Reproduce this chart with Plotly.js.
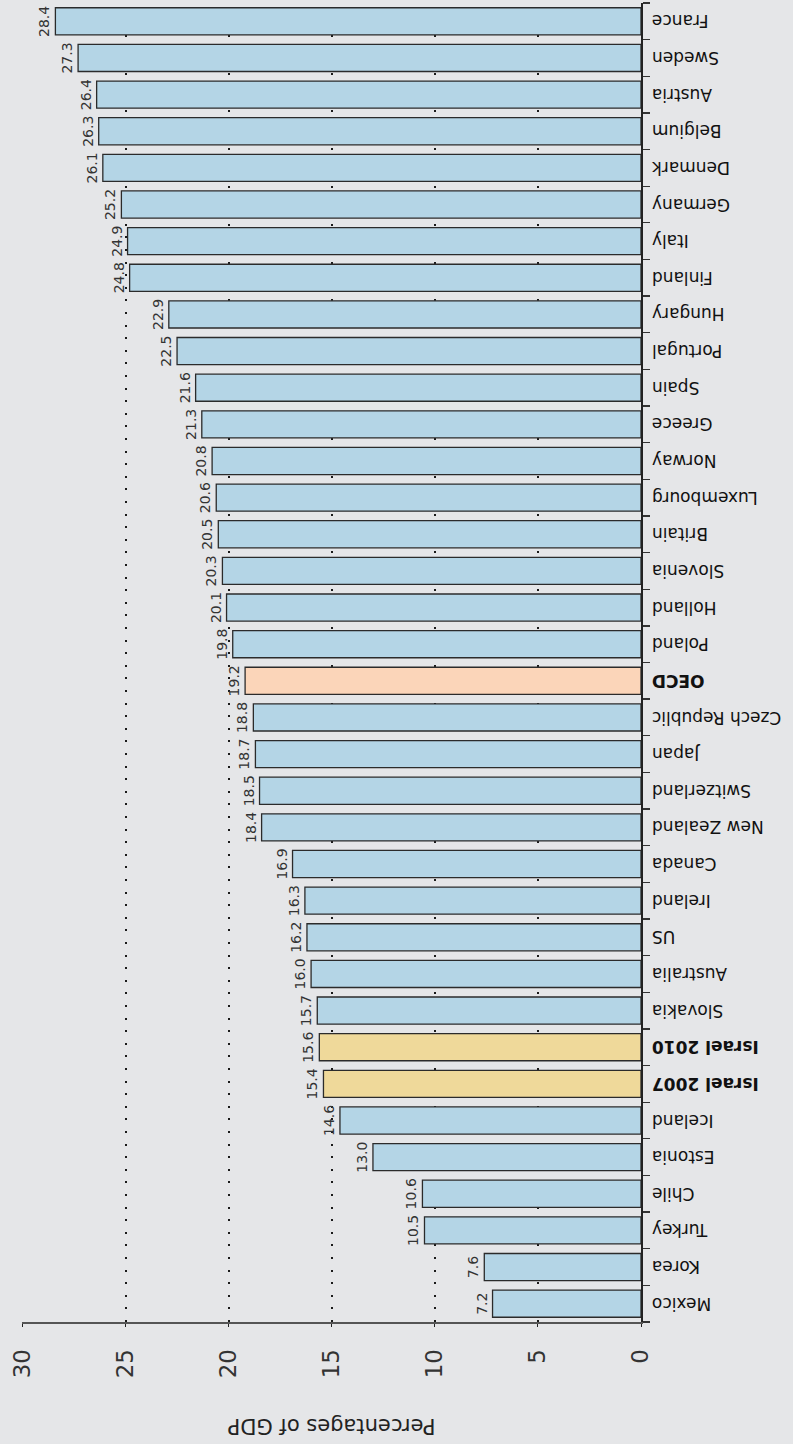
<!DOCTYPE html>
<html>
<head>
<meta charset="utf-8">
<script src="https://cdn.plot.ly/plotly-3.0.1.min.js"></script>
<style>
  html, body { margin: 0; padding: 0; background: #e5e6e8; overflow: hidden; }
  #chart { width: 793px; height: 1444px; transform: rotate(180deg); transform-origin: 50% 50%; }
</style>
</head>
<body>
<div id="chart"></div>
<script>
// Data, ordered as in the chart
const countries = ['France','Sweden','Austria','Belgium','Denmark','Germany','Italy','Finland',
  'Hungary','Portugal','Spain','Greece','Norway','Luxembourg','Britain','Slovenia','Holland',
  'Poland','OECD','Czech Republic','Japan','Switzerland','New Zealand','Canada','Ireland','US',
  'Australia','Slovakia','Israel 2010','Israel 2007','Iceland','Estonia','Chile','Turkey','Korea','Mexico'];
const values = [28.4,27.3,26.4,26.3,26.1,25.2,24.9,24.8,22.9,22.5,21.6,21.3,20.8,20.6,20.5,20.3,20.1,
  19.8,19.2,18.8,18.7,18.5,18.4,16.9,16.3,16.2,16.0,15.7,15.6,15.4,14.6,13.0,10.6,10.5,7.6,7.2];
const oecdNames = ['OECD'];
const israelNames = ['Israel 2010','Israel 2007'];
const xTicks = [0,5,10,15,20,25,30];
const axisTitle = 'Percentages of GDP';

const colorBase = '#b4d5e6', colorOecd = '#fbd5b9', colorIsrael = '#efd99a';
const barColors = countries.map(c => oecdNames.includes(c) ? colorOecd : (israelNames.includes(c) ? colorIsrael : colorBase));
const tickText = countries.map(c => (oecdNames.includes(c) || israelNames.includes(c)) ? '<b>' + c + '</b>' : c);

const font = 'DejaVu Sans, sans-serif';

Plotly.newPlot('chart', [{
  type: 'bar',
  orientation: 'h',
  y: countries,
  x: values,
  marker: { color: barColors, line: { color: '#2b2b2b', width: 1.3 } },
  text: values.map(v => v.toFixed(1)),
  textposition: 'outside',
  textangle: 90,
  textfont: { family: font, size: 14, color: '#333' },
  cliponaxis: false,
  hoverinfo: 'none'
}], {
  width: 793, height: 1444,
  margin: { l: 152, r: 22, t: 122, b: 3 },
  paper_bgcolor: '#e5e6e8',
  plot_bgcolor: '#e5e6e8',
  bargap: 0.26,
  showlegend: false,
  font: { family: font, color: '#222' },
  xaxis: {
    side: 'top',
    range: [0, 30.02],
    tickvals: xTicks,
    ticktext: xTicks.map(String),
    tickangle: 90,
    tickfont: { family: font, size: 23, color: '#333' },
    ticks: 'outside', ticklen: 3, tickcolor: '#222', tickwidth: 1,
    ticklabelstandoff: 14,
    showline: true, linecolor: '#555', linewidth: 2,
    showgrid: true, gridcolor: '#1a1a1a', gridwidth: 2, griddash: '2px,10.6px',
    zeroline: false,
    title: { text: axisTitle, font: { family: font, size: 21, color: '#222' }, standoff: 34 }
  },
  yaxis: {
    type: 'category',
    categoryorder: 'array',
    categoryarray: countries,
    tickvals: countries,
    ticktext: tickText,
    tickson: 'boundaries',
    ticks: 'outside', ticklen: 7, tickcolor: '#333', tickwidth: 1.3,
    ticklabelstandoff: 6,
    tickfont: { family: font, size: 17, color: '#111' },
    showline: true, linecolor: '#222', linewidth: 1.5,
    showgrid: false, zeroline: false
  }
}, { displayModeBar: false, staticPlot: true });
</script>
</body>
</html>
